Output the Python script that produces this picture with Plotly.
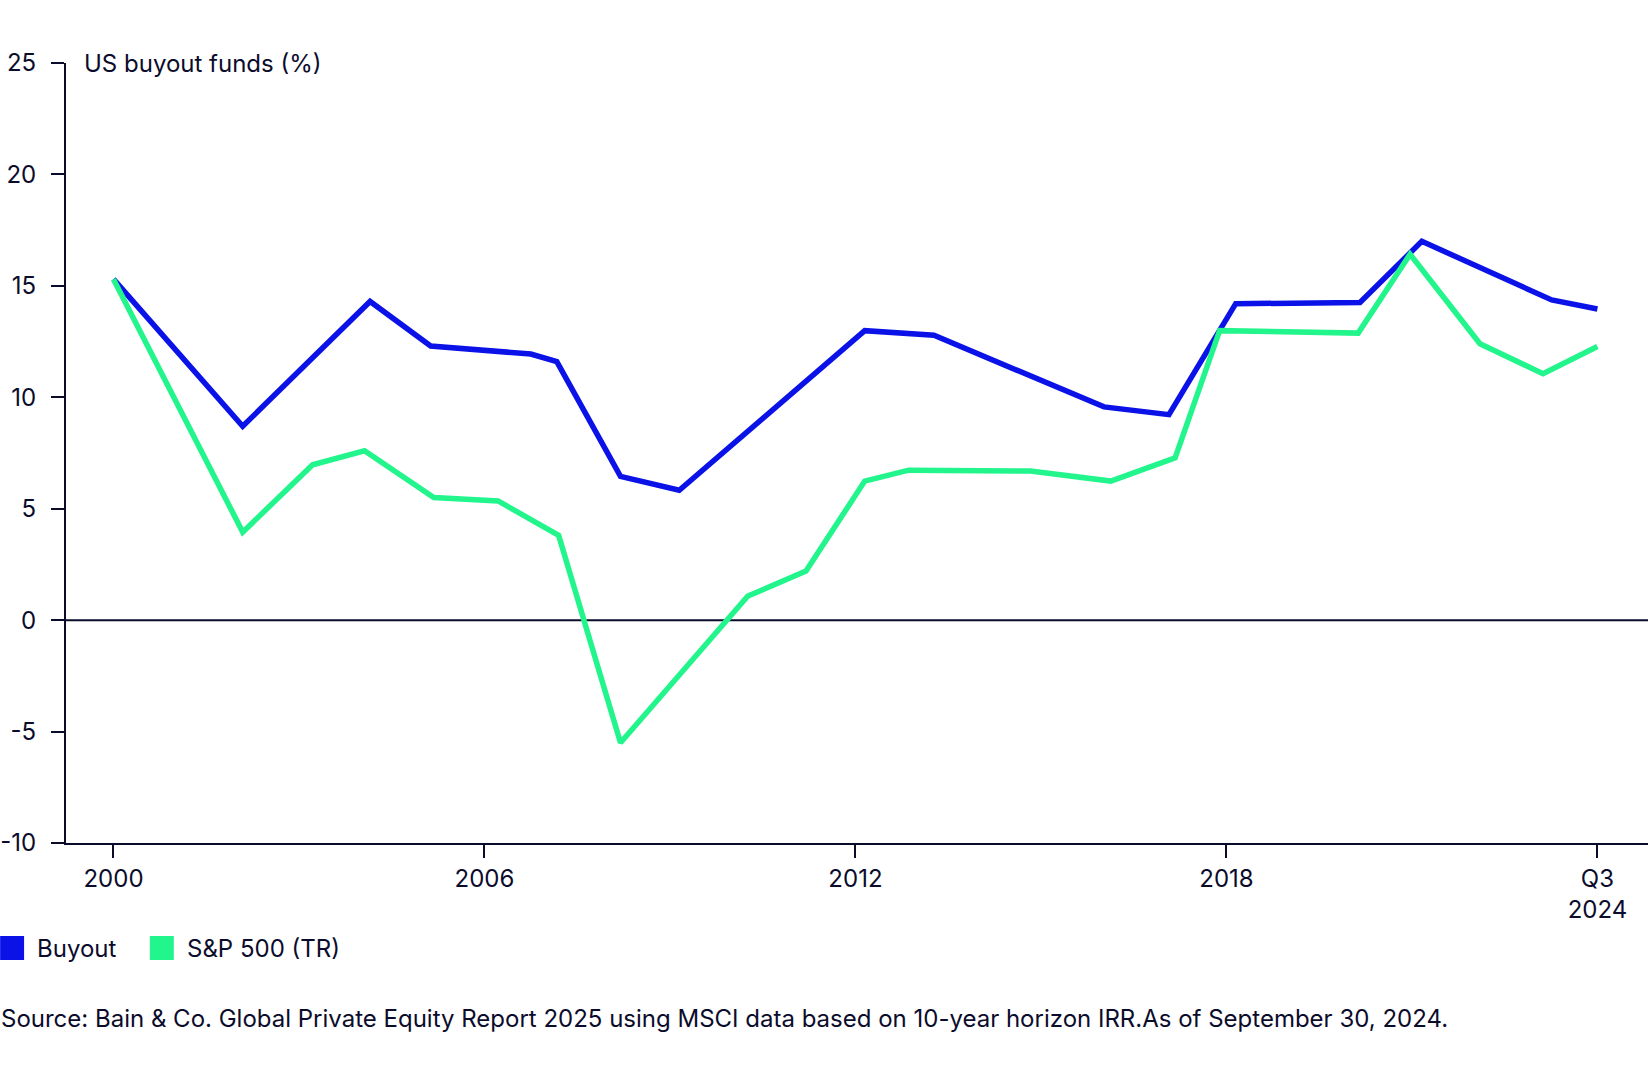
import plotly.graph_objects as go

# data (10-year horizon IRR, %)
buyout_x = [2000, 2002.09, 2004.15, 2005.13, 2006.75, 2007.17, 2008.2, 2009.15,
            2012.15, 2013.27, 2016.02, 2017.07, 2018.15, 2020.16, 2021.16, 2023.26, 2024]
buyout_y = [15.3, 8.7, 14.3, 12.3, 11.94, 11.6, 6.45, 5.83,
            12.99, 12.78, 9.57, 9.22, 14.2, 14.25, 17.0, 14.37, 13.96]

sp500_x = [2000, 2002.09, 2003.22, 2004.06, 2005.18, 2006.22, 2007.2, 2008.2,
           2010.26, 2011.2, 2012.15, 2012.86, 2014.83, 2016.13, 2017.17, 2017.89,
           2020.13, 2020.97, 2022.1, 2023.12, 2024]
sp500_y = [15.3, 3.95, 6.97, 7.6, 5.5, 5.35, 3.8, -5.5,
           1.08, 2.2, 6.24, 6.73, 6.69, 6.24, 7.28, 12.99,
           12.88, 16.42, 12.4, 11.06, 12.28]

x_ticks = [2000, 2006, 2012, 2018, 2024]
x_tick_labels = ["2000", "2006", "2012", "2018", "Q3<br>2024"]
y_ticks = [-10, -5, 0, 5, 10, 15, 20, 25]
y_tick_labels = ["-10", "-5", "0", "5", "10", "15", "20", "25"]

NAVY = "#0b0c2c"
BLUE = "#0a12e8"
GREEN = "#22f58c"
FONT = "Inter"
FS = 24

fig = go.Figure()

fig.add_trace(go.Scatter(
    x=buyout_x, y=buyout_y, mode="lines", name="Buyout",
    line=dict(color=BLUE, width=5.5), showlegend=False
))
fig.add_trace(go.Scatter(
    x=sp500_x, y=sp500_y, mode="lines", name="S&P 500 (TR)",
    line=dict(color=GREEN, width=5.5), showlegend=False
))

# zero line
fig.add_hline(y=0, line=dict(color=NAVY, width=2), layer="below")

# y-axis title at top
fig.add_annotation(
    text="US buyout funds (%)", xref="paper", x=0, xshift=16, xanchor="left",
    yref="y", y=25, yanchor="middle", showarrow=False,
    font=dict(family=FONT, size=FS, color=NAVY)
)

# legend drawn by hand so the swatches are square
legend_items = [("Buyout", BLUE, 0), ("S&P 500 (TR)", GREEN, 150)]
for label, color, left in legend_items:
    fig.add_shape(type="rect", xref="paper", yref="paper",
                  x0=(left - 66) / 1585, x1=(left - 66 + 24) / 1585,
                  y0=-(948 - 843 + 12) / 780, y1=-(948 - 843 - 12) / 780,
                  fillcolor=color, line=dict(width=0))
    fig.add_annotation(text=label, xref="paper", yref="paper",
                       x=(left - 63 + 32) / 1585, y=-(948 - 843) / 780,
                       xanchor="left", yanchor="middle", showarrow=False,
                       font=dict(family=FONT, size=FS, color=NAVY))

fig.add_annotation(
    text="Source: Bain & Co. Global Private Equity Report 2025 using MSCI data based on "
         "10-year horizon IRR.As of September 30, 2024.",
    xref="paper", yref="paper", x=-63 / 1585, xshift=-4, y=-(1018 - 843) / 780,
    xanchor="left", yanchor="middle", showarrow=False,
    font=dict(family=FONT, size=FS, color=NAVY)
)

fig.update_layout(
    width=1648, height=1080,
    margin=dict(l=63, r=0, t=63, b=237),
    paper_bgcolor="white", plot_bgcolor="white",
    font=dict(family=FONT, size=FS, color=NAVY),
    showlegend=False,
    xaxis=dict(
        range=[1999.232, 2024.818], tickvals=x_ticks, ticktext=x_tick_labels,
        showgrid=False, zeroline=False, showline=True, linecolor=NAVY, linewidth=2,
        ticks="outside", ticklen=13, tickwidth=2, tickcolor=NAVY,
        tickfont=dict(family=FONT, size=FS, color=NAVY),
    ),
    yaxis=dict(
        range=[-10, 25], tickvals=y_ticks, ticktext=y_tick_labels,
        showgrid=False, zeroline=False, showline=True, linecolor=NAVY, linewidth=2,
        ticks="outside", ticklen=13, tickwidth=2, tickcolor=NAVY,
        ticklabelstandoff=10,
        tickfont=dict(family=FONT, size=FS, color=NAVY),
    ),
)

fig.write_html("out.html", config={"displayModeBar": False},
               post_script="document.body.style.margin='0';")
